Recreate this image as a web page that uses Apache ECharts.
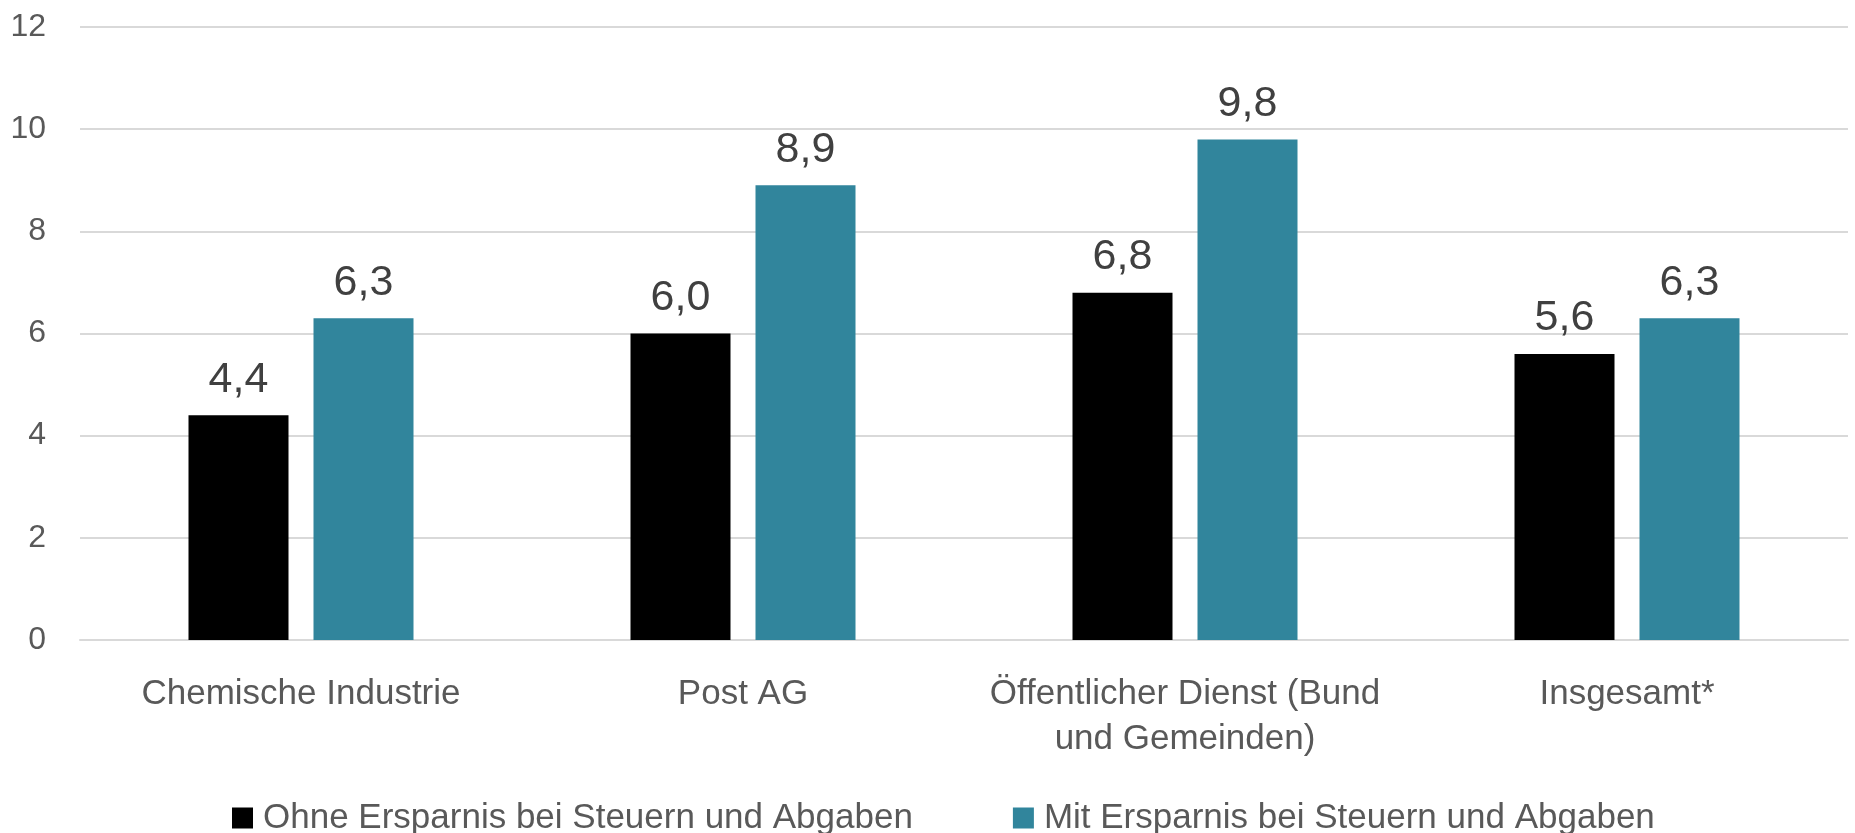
<!DOCTYPE html>
<html>
<head>
<meta charset="utf-8">
<title>Ersparnis</title>
<script src="https://cdn.jsdelivr.net/npm/echarts@6/dist/echarts.min.js"></script>
<style>
  html, body { margin: 0; padding: 0; background: #fff; }
  #main { width: 1855px; height: 833px; }
</style>
</head>
<body>
<div id="main"></div>
<script>
// Kategorien und Werte
const categories = ['Chemische Industrie', 'Post AG', 'Öffentlicher Dienst (Bund\nund Gemeinden)', 'Insgesamt*']
const seriesNames = ['Ohne Ersparnis bei Steuern und Abgaben', 'Mit Ersparnis bei Steuern und Abgaben']
const ohneErsparnis = [4.4, 6.0, 6.8, 5.6]
const mitErsparnis = [6.3, 8.9, 9.8, 6.3]

const textColor = '#595959'
const fontFamily = '"Liberation Sans", Arial, sans-serif'

// Dezimalkomma
const fmt = v => Number(v).toFixed(1).replace('.', ',')

const chart = echarts.init(document.getElementById('main'))

const valueLabel = {
  show: true,
  position: 'top',
  distance: 14,
  color: '#404040',
  fontFamily,
  fontSize: 43,
  formatter: p => fmt(p.value)
}

chart.setOption({
  animation: false,
  textStyle: { fontFamily },
  grid: { left: 80, right: 7, top: 27, bottom: 193 },
  legend: {
    top: 795,
    left: 227,
    itemWidth: 21,
    itemHeight: 21,
    itemGap: 100,
    icon: 'rect',
    textStyle: { color: textColor, fontSize: 35, lineHeight: 36, fontFamily, padding: [0, 0, 0, 5] },
    data: seriesNames
  },
  xAxis: {
    type: 'category',
    data: categories,
    axisTick: { show: false },
    axisLine: { show: true, lineStyle: { color: '#D9D9D9', width: 2 } },
    axisLabel: {
      color: textColor,
      fontSize: 35,
      fontFamily,
      margin: 32,
      lineHeight: 45,
      interval: 0
    }
  },
  yAxis: {
    type: 'value',
    min: 0,
    max: 12,
    interval: 2,
    axisLine: { show: false },
    axisTick: { show: false },
    axisLabel: { color: textColor, fontSize: 32, fontFamily, margin: 34 },
    splitLine: { lineStyle: { color: '#D9D9D9', width: 2 } }
  },
  series: [
    {
      name: seriesNames[0],
      type: 'bar',
      data: ohneErsparnis,
      barWidth: 100,
      barGap: '25%',
      itemStyle: { color: '#000000' },
      label: valueLabel
    },
    {
      name: seriesNames[1],
      type: 'bar',
      data: mitErsparnis,
      barWidth: 100,
      itemStyle: { color: '#31859C' },
      label: valueLabel
    }
  ]
})
</script>
</body>
</html>
